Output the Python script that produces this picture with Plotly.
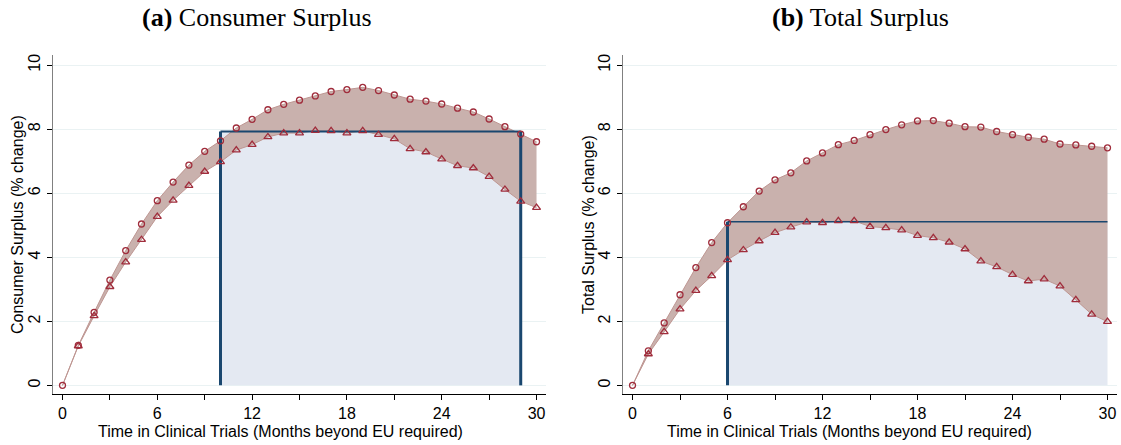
import plotly.graph_objects as go

months = list(range(0, 31))

# Panel (a): Consumer Surplus (% change)
cs_upper = [0, 1.25, 2.28, 3.29, 4.21, 5.04, 5.77, 6.35, 6.88, 7.31, 7.64,
            8.04, 8.31, 8.61, 8.78, 8.91, 9.04, 9.18, 9.24, 9.31, 9.21,
            9.07, 8.94, 8.88, 8.79, 8.66, 8.54, 8.32, 8.08, 7.85, 7.61]
cs_lower = [0, 1.23, 2.17, 3.08, 3.85, 4.55, 5.27, 5.78, 6.24, 6.68, 6.98,
            7.35, 7.52, 7.76, 7.88, 7.88, 7.96, 7.95, 7.88, 7.95, 7.83,
            7.70, 7.39, 7.29, 7.07, 6.86, 6.79, 6.52, 6.12, 5.75, 5.55]
cs_level = 7.93
cs_start, cs_end = 10, 29

# Panel (b): Total Surplus (% change)
ts_upper = [0, 1.08, 1.95, 2.83, 3.68, 4.46, 5.08, 5.58, 6.07, 6.42, 6.64,
            7.01, 7.26, 7.52, 7.65, 7.83, 7.99, 8.14, 8.26, 8.27, 8.19,
            8.08, 8.07, 7.93, 7.83, 7.75, 7.69, 7.54, 7.51, 7.47, 7.42]
ts_lower = [0, 0.98, 1.67, 2.38, 2.96, 3.42, 3.92, 4.23, 4.51, 4.77, 4.94,
            5.10, 5.08, 5.14, 5.14, 4.96, 4.92, 4.85, 4.68, 4.61, 4.47,
            4.26, 3.88, 3.70, 3.46, 3.26, 3.32, 3.10, 2.67, 2.22, 1.99]
ts_level = 5.11
ts_start, ts_end = 6, 30

x_ticks = list(range(0, 31, 3))
x_ticktext = [str(v) if v % 6 == 0 else "" for v in x_ticks]
y_ticks = [0, 2, 4, 6, 8, 10]

W, H = 1121, 445
BAND = "rgb(201,177,173)"
BAND_LINE = "rgb(190,150,146)"
MARK = "rgb(160,45,60)"
NAVY = "rgb(26,71,111)"
LIGHT = "rgb(228,233,242)"

fig = go.Figure()


def panel(xa, ya, upper, lower, level, start, end, right_vertical, hwidth):
    # light blue region
    fig.add_trace(go.Scatter(x=[start, start, end, end], y=[0, level, level, 0],
                             fill="toself", fillcolor=LIGHT, mode="none",
                             xaxis=xa, yaxis=ya, showlegend=False, hoverinfo="skip"))
    # band
    fig.add_trace(go.Scatter(x=months, y=upper, mode="lines",
                             line=dict(color=BAND_LINE, width=1),
                             xaxis=xa, yaxis=ya, showlegend=False))
    fig.add_trace(go.Scatter(x=months, y=lower, mode="lines", fill="tonexty",
                             fillcolor=BAND, line=dict(color=BAND_LINE, width=1),
                             xaxis=xa, yaxis=ya, showlegend=False))
    # navy lines
    fig.add_trace(go.Scatter(x=[start, end], y=[level, level], mode="lines",
                             line=dict(color=NAVY, width=hwidth),
                             xaxis=xa, yaxis=ya, showlegend=False))
    fig.add_trace(go.Scatter(x=[start, start], y=[0, level], mode="lines",
                             line=dict(color=NAVY, width=3),
                             xaxis=xa, yaxis=ya, showlegend=False))
    if right_vertical:
        fig.add_trace(go.Scatter(x=[end, end], y=[0, level], mode="lines",
                                 line=dict(color=NAVY, width=3),
                                 xaxis=xa, yaxis=ya, showlegend=False))
    # markers
    fig.add_trace(go.Scatter(x=months, y=upper, mode="markers",
                             marker=dict(symbol="circle-open", size=6, color=MARK,
                                         line=dict(width=1.3, color=MARK)),
                             xaxis=xa, yaxis=ya, showlegend=False))
    fig.add_trace(go.Scatter(x=months[1:], y=lower[1:], mode="markers",
                             marker=dict(symbol="triangle-up-open", size=7, color=MARK,
                                         line=dict(width=1.3, color=MARK)),
                             xaxis=xa, yaxis=ya, showlegend=False))


panel("x", "y", cs_upper, cs_lower, cs_level, cs_start, cs_end, True, 2)
panel("x2", "y2", ts_upper, ts_lower, ts_level, ts_start, ts_end, False, 1.5)

y_dom = [(H - 394) / H, (H - 55) / H]
xcommon = dict(range=[-0.62, 30.6], tickvals=x_ticks, ticktext=x_ticktext,
               ticks="outside", ticklen=5, tickcolor="black", tickwidth=1,
               showline=True, linecolor="black", linewidth=1.2, showgrid=False,
               zeroline=False, tickfont=dict(family="Liberation Sans", size=16, color="black"),
               automargin=False)
ycommon = dict(range=[-0.27, 10.32], tickvals=y_ticks, ticks="outside", ticklen=5,
               tickcolor="black", tickwidth=1, showline=True, linecolor="#808080",
               linewidth=1.2, showgrid=True, gridcolor="rgb(234,242,243)", gridwidth=1,
               zeroline=False, tickangle=-90, domain=y_dom,
               tickfont=dict(family="Liberation Sans", size=16, color="black"),
               automargin=False)

fig.update_layout(
    width=W, height=H,
    margin=dict(l=0, r=0, t=0, b=0),
    paper_bgcolor="white", plot_bgcolor="white",
    xaxis=dict(xcommon, domain=[52.7 / W, 546 / W], anchor="y"),
    yaxis=dict(ycommon, anchor="x"),
    xaxis2=dict(xcommon, domain=[622.7 / W, 1117 / W], anchor="y2"),
    yaxis2=dict(ycommon, anchor="x2"),
)

ann_font = dict(family="Liberation Sans", size=16, color="black")
title_font = dict(family="Liberation Serif", size=26, color="black")
annotations = [
    dict(x=257 / W, y=1 - 17 / H, text="<b>(a)</b> Consumer Surplus", font=title_font),
    dict(x=860 / W, y=1 - 17 / H, text="<b>(b)</b> Total Surplus", font=title_font),
    dict(x=280 / W, y=1 - 431 / H, text="Time in Clinical Trials (Months beyond EU required)", font=ann_font),
    dict(x=849 / W, y=1 - 431 / H, text="Time in Clinical Trials (Months beyond EU required)", font=ann_font),
    dict(x=17 / W, y=1 - 225 / H, text="Consumer Surplus (% change)", font=ann_font, textangle=-90),
    dict(x=588 / W, y=1 - 225 / H, text="Total Surplus (% change)", font=ann_font, textangle=-90),
]
for a in annotations:
    a.update(xref="paper", yref="paper", showarrow=False, xanchor="center", yanchor="middle")
fig.update_layout(annotations=annotations)

fig.write_html("out.html")
